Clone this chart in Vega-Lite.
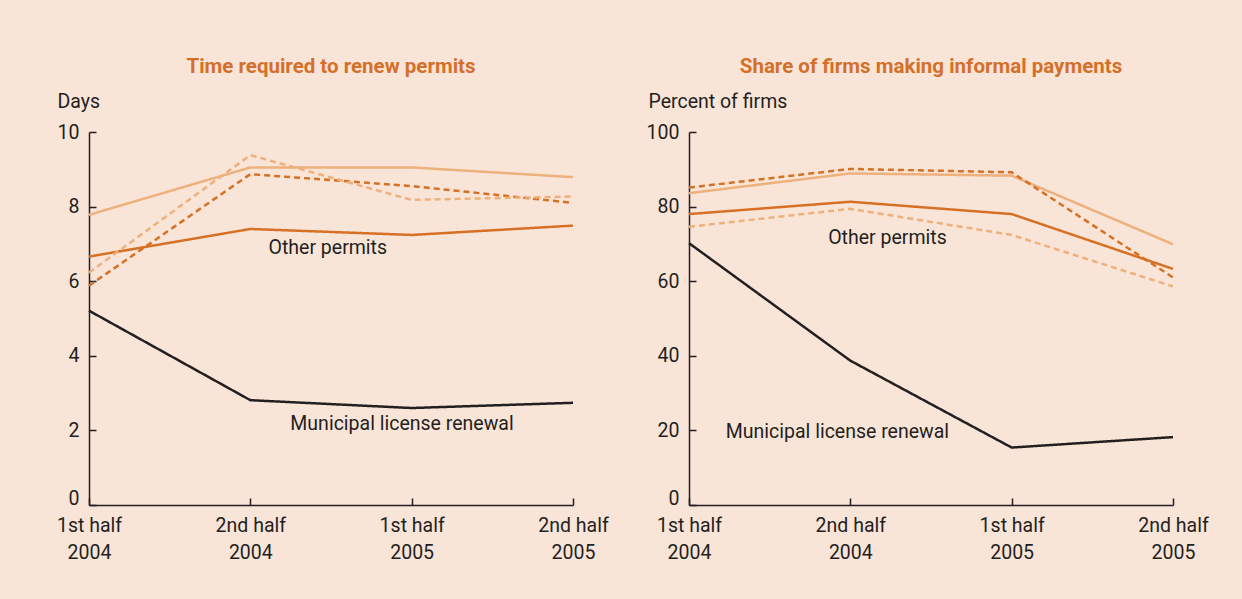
{
  "$schema": "https://vega.github.io/schema/vega-lite/v6.json",
  "background": "#f9e5d8",
  "padding": {"left": 56, "top": 56, "right": 40, "bottom": 60},
  "bounds": "flush",
  "spacing": 116,
  "datasets": {
    "series": [
      {"panel": "time", "series": "Municipal license renewal", "period": 0, "value": 5.21},
      {"panel": "time", "series": "Municipal license renewal", "period": 1, "value": 2.81},
      {"panel": "time", "series": "Municipal license renewal", "period": 2, "value": 2.60},
      {"panel": "time", "series": "Municipal license renewal", "period": 3, "value": 2.74},
      {"panel": "time", "series": "Other permits", "period": 0, "value": 6.66},
      {"panel": "time", "series": "Other permits", "period": 1, "value": 7.40},
      {"panel": "time", "series": "Other permits", "period": 2, "value": 7.24},
      {"panel": "time", "series": "Other permits", "period": 3, "value": 7.49},
      {"panel": "time", "series": "Other permits B", "period": 0, "value": 7.78},
      {"panel": "time", "series": "Other permits B", "period": 1, "value": 9.05},
      {"panel": "time", "series": "Other permits B", "period": 2, "value": 9.05},
      {"panel": "time", "series": "Other permits B", "period": 3, "value": 8.79},
      {"panel": "time", "series": "Other permits C", "period": 0, "value": 5.88},
      {"panel": "time", "series": "Other permits C", "period": 1, "value": 8.87},
      {"panel": "time", "series": "Other permits C", "period": 2, "value": 8.55},
      {"panel": "time", "series": "Other permits C", "period": 3, "value": 8.10},
      {"panel": "time", "series": "Other permits D", "period": 0, "value": 6.23},
      {"panel": "time", "series": "Other permits D", "period": 1, "value": 9.38},
      {"panel": "time", "series": "Other permits D", "period": 2, "value": 8.18},
      {"panel": "time", "series": "Other permits D", "period": 3, "value": 8.27},
      {"panel": "pay", "series": "Municipal license renewal", "period": 0, "value": 70.2},
      {"panel": "pay", "series": "Municipal license renewal", "period": 1, "value": 38.7},
      {"panel": "pay", "series": "Municipal license renewal", "period": 2, "value": 15.4},
      {"panel": "pay", "series": "Municipal license renewal", "period": 3, "value": 18.2},
      {"panel": "pay", "series": "Other permits", "period": 0, "value": 78.0},
      {"panel": "pay", "series": "Other permits", "period": 1, "value": 81.3},
      {"panel": "pay", "series": "Other permits", "period": 2, "value": 78.0},
      {"panel": "pay", "series": "Other permits", "period": 3, "value": 63.3},
      {"panel": "pay", "series": "Other permits B", "period": 0, "value": 83.6},
      {"panel": "pay", "series": "Other permits B", "period": 1, "value": 88.9},
      {"panel": "pay", "series": "Other permits B", "period": 2, "value": 88.3},
      {"panel": "pay", "series": "Other permits B", "period": 3, "value": 69.9},
      {"panel": "pay", "series": "Other permits C", "period": 0, "value": 85.1},
      {"panel": "pay", "series": "Other permits C", "period": 1, "value": 90.1},
      {"panel": "pay", "series": "Other permits C", "period": 2, "value": 89.2},
      {"panel": "pay", "series": "Other permits C", "period": 3, "value": 61.0},
      {"panel": "pay", "series": "Other permits D", "period": 0, "value": 74.6},
      {"panel": "pay", "series": "Other permits D", "period": 1, "value": 79.4},
      {"panel": "pay", "series": "Other permits D", "period": 2, "value": 72.4},
      {"panel": "pay", "series": "Other permits D", "period": 3, "value": 58.6}
    ],
    "labels": [
      {"panel": "time", "text": "Other permits", "x": 1.48, "y": 6.89},
      {"panel": "time", "text": "Municipal license renewal", "x": 1.94, "y": 2.18},
      {"panel": "pay", "text": "Other permits", "x": 1.23, "y": 71.6},
      {"panel": "pay", "text": "Municipal license renewal", "x": 0.92, "y": 19.7}
    ]
  },
  "config": {
    "view": {"stroke": null},
    "font": "Roboto",
    "axis": {
      "grid": false,
      "domainColor": "#231f20",
      "tickColor": "#231f20",
      "labelColor": "#231f20",
      "titleColor": "#231f20",
      "labelFontSize": 19.5,
      "titleFontSize": 19.5,
      "titleFontWeight": "normal",
      "domainWidth": 1.5,
      "tickWidth": 1.5,
      "tickSize": -7
    },
    "title": {"color": "#d4702a", "fontSize": 20.5, "fontWeight": "bold", "anchor": "middle", "offset": 14}
  },
  "hconcat": [
    {
      "width": 484,
      "height": 373,
      "title": "Time required to renew permits",
      "layer": [
        {
          "data": {"name": "series"},
          "transform": [{"filter": "datum.panel == 'time'"}],
          "mark": {"type": "line", "strokeWidth": 2.5},
          "encoding": {
            "x": {"field": "period", "type": "quantitative", "scale": {"domain": [0, 3], "nice": false},
              "axis": {"title": null, "values": [0, 1, 2, 3], "labelFlush": false, "labelOverlap": false, "labelBaseline": "top", "labelPadding": 18, "labelLineHeight": 27,
                "labelExpr": "[(datum.value == 0 || datum.value == 2) ? '1st half' : '2nd half', datum.value < 2 ? '2004' : '2005']"}},
            "y": {"field": "value", "type": "quantitative", "scale": {"domain": [0, 10], "nice": false},
              "axis": {"title": "Days", "values": [0, 2, 4, 6, 8, 10], "labelPadding": 17, "labelOffset": {"condition": {"test": "datum.value == 0", "value": -7}, "value": 0}, "titleAngle": 0, "titleAlign": "left", "titleBaseline": "alphabetic", "titleX": -32, "titleY": -25}},
            "color": {"field": "series", "type": "nominal", "legend": null,
              "scale": {"domain": ["Municipal license renewal", "Other permits", "Other permits B", "Other permits C", "Other permits D"],
                "range": ["#231f20", "#d67024", "#eeb07c", "#d67024", "#eeb07c"]}},
            "strokeDash": {"field": "series", "type": "nominal", "legend": null,
              "scale": {"domain": ["Municipal license renewal", "Other permits", "Other permits B", "Other permits C", "Other permits D"],
                "range": [[1, 0], [1, 0], [1, 0], [6, 4], [6, 4]]}}
          }
        },
        {
          "data": {"name": "labels"},
          "transform": [{"filter": "datum.panel == 'time'"}],
          "mark": {"type": "text", "fontSize": 19.5, "color": "#231f20"},
          "encoding": {
            "x": {"field": "x", "type": "quantitative"},
            "y": {"field": "y", "type": "quantitative"},
            "text": {"field": "text"}
          }
        }
      ]
    },
    {
      "width": 484,
      "height": 373,
      "title": "Share of firms making informal payments",
      "layer": [
        {
          "data": {"name": "series"},
          "transform": [{"filter": "datum.panel == 'pay'"}],
          "mark": {"type": "line", "strokeWidth": 2.5},
          "encoding": {
            "x": {"field": "period", "type": "quantitative", "scale": {"domain": [0, 3], "nice": false},
              "axis": {"title": null, "values": [0, 1, 2, 3], "labelFlush": false, "labelOverlap": false, "labelBaseline": "top", "labelPadding": 18, "labelLineHeight": 27,
                "labelExpr": "[(datum.value == 0 || datum.value == 2) ? '1st half' : '2nd half', datum.value < 2 ? '2004' : '2005']"}},
            "y": {"field": "value", "type": "quantitative", "scale": {"domain": [0, 100], "nice": false},
              "axis": {"title": "Percent of firms", "values": [0, 20, 40, 60, 80, 100], "labelPadding": 17, "labelOffset": {"condition": {"test": "datum.value == 0", "value": -7}, "value": 0}, "titleAngle": 0, "titleAlign": "left", "titleBaseline": "alphabetic", "titleX": -41, "titleY": -25}},
            "color": {"field": "series", "type": "nominal", "legend": null,
              "scale": {"domain": ["Municipal license renewal", "Other permits", "Other permits B", "Other permits C", "Other permits D"],
                "range": ["#231f20", "#d67024", "#eeb07c", "#d67024", "#eeb07c"]}},
            "strokeDash": {"field": "series", "type": "nominal", "legend": null,
              "scale": {"domain": ["Municipal license renewal", "Other permits", "Other permits B", "Other permits C", "Other permits D"],
                "range": [[1, 0], [1, 0], [1, 0], [6, 4], [6, 4]]}}
          }
        },
        {
          "data": {"name": "labels"},
          "transform": [{"filter": "datum.panel == 'pay'"}],
          "mark": {"type": "text", "fontSize": 19.5, "color": "#231f20"},
          "encoding": {
            "x": {"field": "x", "type": "quantitative"},
            "y": {"field": "y", "type": "quantitative"},
            "text": {"field": "text"}
          }
        }
      ]
    }
  ]
}
